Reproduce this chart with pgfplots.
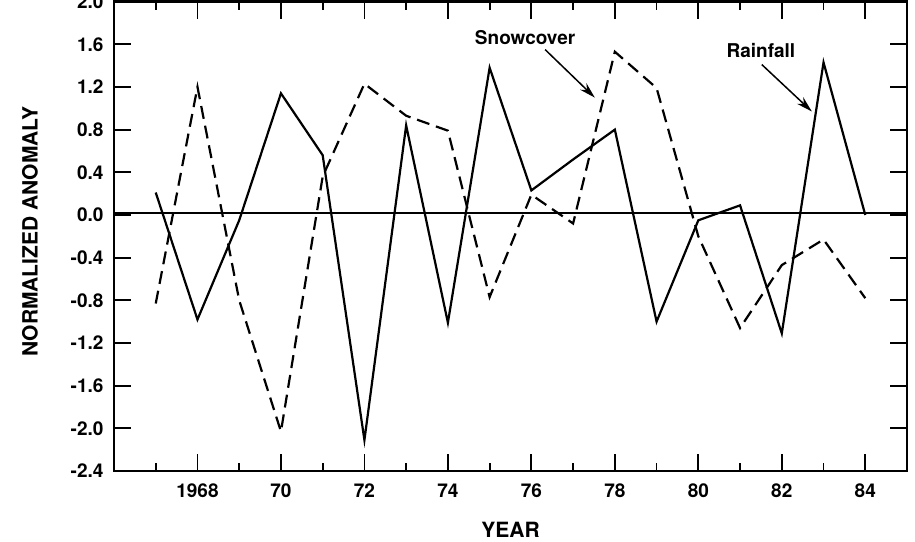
\documentclass[border=0pt]{standalone}
\usepackage{fontspec}
\setmainfont{TeX Gyre Heros}
\usepackage{pgfplots}
\pgfplotsset{compat=1.18}
\usetikzlibrary{arrows.meta}
\begin{document}
\begin{tikzpicture}
\begin{axis}[
    scale only axis,
    width=793pt, height=469.4pt,
    xmin=1966, xmax=1985, ymin=-2.4, ymax=2.0,
    xtick={1968,1970,...,1984},
    xticklabels={1968,70,72,74,76,78,80,82,84},
    minor xtick={1967,1969,...,1983},
    ytick={-2.4,-2.0,-1.6,-1.2,-0.8,-0.4,0,0.4,0.8,1.2,1.6,2.0},
    tick align=inside,
    major tick length=17pt, minor tick length=8pt,
    every tick/.style={black, line width=1.8pt},
    axis line style={line width=2.4pt},
    yticklabel style={font=\fontsize{19}{21}\selectfont\bfseries, xshift=-7pt,
        /pgf/number format/.cd, fixed, fixed zerofill, precision=1, assume math mode=true},
    xticklabel style={font=\fontsize{19}{21}\selectfont\bfseries, yshift=-9pt,
        /pgf/number format/assume math mode=true},
    xlabel={YEAR},
    ylabel={NORMALIZED ANOMALY},
    xlabel style={font=\fontsize{21}{24}\selectfont\bfseries, at={(axis description cs:0.5,-0.126)}, anchor=center},
    ylabel style={font=\fontsize{21}{24}\selectfont\bfseries, at={(axis description cs:-0.106,0.51)}, anchor=center},
]
\coordinate (BL) at (rel axis cs:0,0);
\coordinate (TR) at (rel axis cs:1,1);

% zero line
\addplot[black, line width=2.2pt] coordinates {(1966,0.02) (1985,0.02)};

% rainfall
\addplot[black, line width=2.2pt] coordinates {
    (1967,0.21) (1968,-0.98) (1969,-0.05) (1970,1.14) (1971,0.56)
    (1972,-2.11) (1973,0.84) (1974,-1.01) (1975,1.38) (1976,0.23)
    (1977,0.52) (1978,0.80) (1979,-1.00) (1980,-0.05) (1981,0.09)
    (1982,-1.11) (1983,1.43) (1984,0.0)
};

% snowcover
\addplot[black, line width=2.2pt, dash pattern=on 13pt off 7pt] coordinates {
    (1967,-0.83) (1968,1.20) (1969,-0.80) (1970,-2.03) (1971,0.36)
    (1972,1.23) (1973,0.93) (1974,0.79) (1975,-0.77) (1976,0.19)
    (1977,-0.08) (1978,1.53) (1979,1.19) (1980,-0.20) (1981,-1.06)
    (1982,-0.47) (1983,-0.23) (1984,-0.78)
};

\node[font=\fontsize{19}{22}\selectfont\bfseries] at (axis cs:1975.85,1.66) {Snowcover};
\draw[-{Stealth[length=16pt,width=9pt]}, line width=1.5pt]
    (axis cs:1976.33,1.55) -- (axis cs:1977.52,1.10);
\node[font=\fontsize{19}{22}\selectfont\bfseries] at (axis cs:1981.5,1.54) {Rainfall};
\draw[-{Stealth[length=16pt,width=9pt]}, line width=1.5pt]
    (axis cs:1981.52,1.41) -- (axis cs:1982.72,0.97);
\end{axis}
\pgfresetboundingbox
\path[use as bounding box] ([shift={(-114pt,-70pt)}]BL) rectangle ([shift={(8pt,1.6pt)}]TR);
\end{tikzpicture}
\end{document}
